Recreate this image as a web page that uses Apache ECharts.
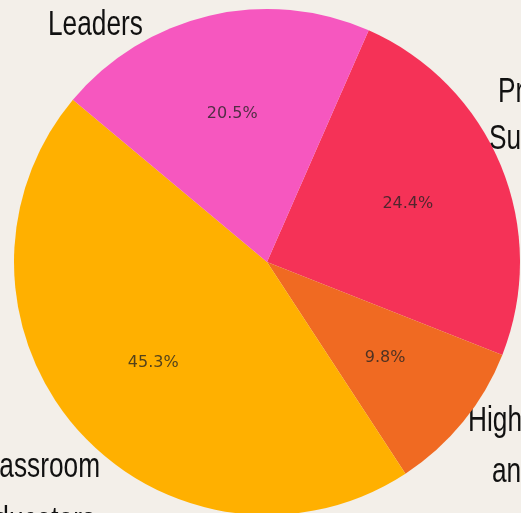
<!DOCTYPE html>
<html>
<head>
<meta charset="utf-8">
<script src="https://cdn.jsdelivr.net/npm/echarts@6/dist/echarts.min.js"></script>
<style>
  html, body { margin: 0; padding: 0; background: #f3efe9; }
  #chart { width: 521px; height: 513px; }
</style>
</head>
<body>
<div id="chart"></div>
<script>
// slices, clockwise from the top-right boundary
const categories = ['Principal\nSupervisors', 'Higher Education\nand Research', 'Classroom\nEducators', 'Leaders']
const shares = [24.4, 9.8, 45.3, 20.5]
const colors = ['#f53257', '#f06a22', '#ffb000', '#f657bf']

// the reference uses a tall, narrow face; squeeze Liberation Sans to get close
const nameFont = "35px 'Liberation Sans', Arial, sans-serif"
const squeeze = 0.75

// where each line of the outer names sits (placed by hand in the reference)
const labelSpots = [
  { align: 'left', x: [498, 489], y: [92, 139] },
  { align: 'left', x: [468, 492], y: [421, 472] },
  { align: 'right', x: [100, 95], y: [467, 521] },
  { align: 'left', x: [48], y: [25] }
]

const nameTexts = []
categories.forEach((name, i) => {
  const spot = labelSpots[i]
  name.split('\n').forEach((line, k) => {
    nameTexts.push({
      type: 'text',
      x: spot.x[k],
      y: spot.y[k],
      scaleX: squeeze,
      silent: true,
      style: {
        text: line,
        font: nameFont,
        fill: '#111',
        align: spot.align,
        verticalAlign: 'middle'
      }
    })
  })
})

const chart = echarts.init(document.getElementById('chart'))

const R = 253

chart.setOption({
  backgroundColor: '#f3efe9',
  animation: false,
  graphic: nameTexts,
  series: [
    {
      type: 'pie',
      center: [267, 262],
      radius: [0, R],
      startAngle: 66.3,
      clockwise: true,
      emphasis: { disabled: true },
      label: { show: false },
      labelLine: { show: false },
      data: categories.map((name, i) => ({
        name: name,
        value: shares[i],
        itemStyle: { color: colors[i] }
      }))
    },
    {
      // percent labels, a bit inside the middle of the radius
      type: 'pie',
      center: [267, 262],
      radius: [R * 0.18, R],
      startAngle: 66.3,
      clockwise: true,
      silent: true,
      emphasis: { disabled: true },
      itemStyle: { color: 'rgba(0,0,0,0)' },
      label: {
        show: true,
        position: 'inside',
        formatter: p => p.value.toFixed(1) + '%',
        fontFamily: 'DejaVu Sans',
        fontSize: 16,
        color: 'rgba(35,35,35,0.78)'
      },
      labelLine: { show: false },
      data: categories.map((name, i) => ({ name: name, value: shares[i] }))
    }
  ]
})
</script>
</body>
</html>
